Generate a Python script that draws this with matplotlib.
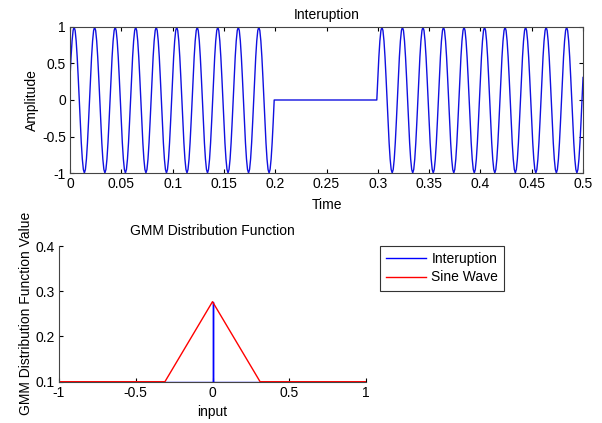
import numpy as np
import matplotlib
matplotlib.use("Agg")
from matplotlib import pyplot as plt

plt.rcParams['font.family'] = ['Liberation Sans', 'DejaVu Sans']
plt.rcParams['font.size'] = 10

# signal: 50 Hz sine, peaks near t = 0.004 s,
# cut out between 0.2 s and 0.3 s
fs = 1000
freq = 50
phase = 0.1 * np.pi
cut_start = 0.2
cut_end = 0.3

t = np.arange(0, 0.5 + 1 / fs / 2, 1 / fs)
signal = np.sin(2 * np.pi * freq * t + phase)
signal[(t >= cut_start - 1e-9) & (t < cut_end - 1e-9)] = 0

# GMM distribution curves
gmm_x_interrupt = [-1, 0, 0, 0, 1]
gmm_y_interrupt = [0.1, 0.1, 0.277, 0.1, 0.1]
gmm_x_sine = [-1, -0.31, 0, 0.31, 1]
gmm_y_sine = [0.1, 0.1, 0.277, 0.1, 0.1]

fig = plt.figure(figsize=(6.02, 4.23), dpi=100)

ax1 = fig.add_axes([0.1163, 0.591, 0.8522, 0.3452])
ax1.plot(t, signal, color='#1010e0', lw=1)
ax1.set_xlim(0, 0.5)
ax1.set_ylim(-1, 1)
ax1.set_xticks(np.arange(0, 0.501, 0.05))
ax1.set_xticklabels(['0', '0.05', '0.1', '0.15', '0.2', '0.25', '0.3', '0.35', '0.4', '0.45', '0.5'])
ax1.set_yticks([-1, -0.5, 0, 0.5, 1])
ax1.set_yticklabels(['-1', '-0.5', '0', '0.5', '1'])
ax1.tick_params(direction='in', top=True, right=True, length=3, pad=3)
ax1.set_title('Interuption', fontsize=10, pad=6)
ax1.set_xlabel('Time', labelpad=5)
ax1.set_ylabel('Amplitude', labelpad=2)
for s in ax1.spines.values():
    s.set_color('#444444')

ax2 = fig.add_axes([0.098, 0.0976, 0.51, 0.3208])
ax2.plot(gmm_x_interrupt, gmm_y_interrupt, color='#0000ff', lw=1, label='Interuption')
ax2.plot(gmm_x_sine, gmm_y_sine, color='#ff0000', lw=1, label='Sine Wave')
ax2.set_xlim(-1, 1)
ax2.set_ylim(0.1, 0.4)
ax2.set_xticks([-1, -0.5, 0, 0.5, 1])
ax2.set_xticklabels(['-1', '-0.5', '0', '0.5', '1'])
ax2.set_yticks([0.1, 0.2, 0.3, 0.4])
ax2.tick_params(direction='in', length=3, pad=3)
ax2.spines['top'].set_visible(False)
ax2.spines['right'].set_visible(False)
ax2.spines['left'].set_color('#444444')
ax2.spines['bottom'].set_color('#444444')
ax2.set_title('GMM Distribution Function', fontsize=10, pad=8)
ax2.set_xlabel('input', labelpad=4)
ax2.set_ylabel('GMM Distribution Function Value', labelpad=2)

leg = ax2.legend(loc='upper left', bbox_to_anchor=(0.631, 0.4184),
                 bbox_transform=fig.transFigure, fancybox=False,
                 edgecolor='#333333', framealpha=1, borderaxespad=0,
                 handlelength=2.9, handletextpad=0.35, borderpad=0.45,
                 labelspacing=0.3)
leg.get_frame().set_linewidth(0.8)

fig.savefig('out.png', dpi=100)
